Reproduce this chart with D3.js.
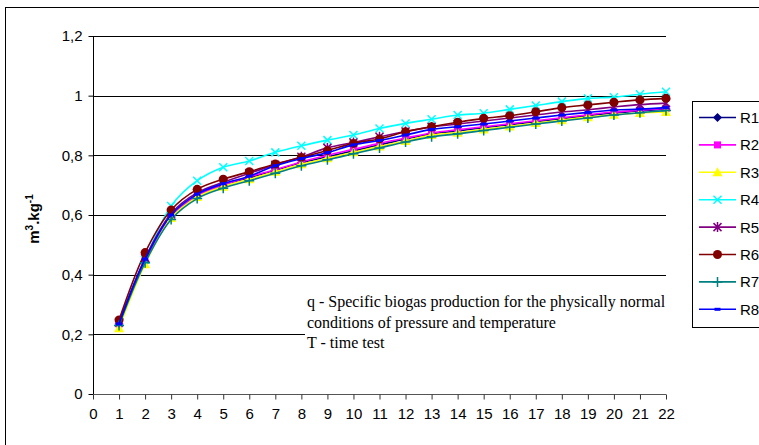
<!DOCTYPE html>
<html>
<head>
<meta charset="utf-8">
<script src="https://cdn.jsdelivr.net/npm/d3@7/dist/d3.min.js"></script>
<style>
  html, body { margin: 0; padding: 0; background: #fff; }
  svg { display: block; font-family: "Liberation Sans", Arial, sans-serif; }
</style>
</head>
<body>
<svg id="chart" width="759" height="445"></svg>
<script>
// Test days (T)
const days = d3.range(1, 23);
const xTicks = d3.range(0, 23);
const yTicks = [0, 0.2, 0.4, 0.6, 0.8, 1.0, 1.2];
const yTickLabels = ["0", "0,2", "0,4", "0,6", "0,8", "1", "1,2"];

// Specific biogas production q, m3/kg, per reactor
const seriesNames = ["R1", "R2", "R3", "R4", "R5", "R6", "R7", "R8"];
const R1 = [0.235, 0.445, 0.590, 0.665, 0.700, 0.725, 0.750, 0.775, 0.795, 0.815, 0.835, 0.855, 0.872, 0.882, 0.893, 0.903, 0.913, 0.923, 0.933, 0.942, 0.949, 0.955];
const R2 = [0.235, 0.450, 0.595, 0.665, 0.700, 0.728, 0.752, 0.778, 0.800, 0.820, 0.840, 0.858, 0.875, 0.886, 0.896, 0.906, 0.916, 0.926, 0.936, 0.945, 0.951, 0.957];
const R3 = [0.220, 0.435, 0.590, 0.660, 0.695, 0.720, 0.745, 0.770, 0.790, 0.810, 0.830, 0.848, 0.868, 0.876, 0.887, 0.897, 0.908, 0.918, 0.928, 0.936, 0.942, 0.945];
const R4 = [0.240, 0.450, 0.630, 0.715, 0.760, 0.781, 0.810, 0.832, 0.851, 0.868, 0.890, 0.907, 0.921, 0.935, 0.941, 0.954, 0.967, 0.980, 0.991, 0.995, 1.005, 1.013];
const R5 = [0.240, 0.455, 0.605, 0.675, 0.710, 0.740, 0.768, 0.795, 0.825, 0.843, 0.862, 0.880, 0.895, 0.905, 0.915, 0.925, 0.935, 0.945, 0.953, 0.962, 0.970, 0.975];
const R6 = [0.248, 0.474, 0.617, 0.686, 0.720, 0.745, 0.771, 0.793, 0.816, 0.840, 0.855, 0.879, 0.896, 0.911, 0.924, 0.933, 0.946, 0.960, 0.969, 0.978, 0.986, 0.991];
const R7 = [0.230, 0.440, 0.585, 0.655, 0.690, 0.715, 0.740, 0.765, 0.785, 0.805, 0.825, 0.845, 0.862, 0.872, 0.883, 0.894, 0.905, 0.915, 0.925, 0.935, 0.943, 0.950];
const R8 = [0.235, 0.452, 0.600, 0.670, 0.705, 0.730, 0.765, 0.789, 0.809, 0.835, 0.850, 0.868, 0.887, 0.896, 0.905, 0.915, 0.925, 0.935, 0.944, 0.952, 0.955, 0.960];
const seriesValues = [R1, R2, R3, R4, R5, R6, R7, R8];
const seriesColors = ["#000080", "#FF00FF", "#FFFF00", "#00FFFF", "#800080", "#800000", "#008080", "#0000FF"];
const seriesMarkers = ["diamond", "square", "triangle", "x", "asterisk", "circle", "plus", "dash"];

const noteLines = [
  "q - Specific biogas production for the physically normal",
  "conditions of pressure and temperature",
  "T - time test"
];

const svg = d3.select("#chart");
const W = 759, H = 445;
const plot = { left: 93, right: 666, top: 36, bottom: 394 };
const sans = "'Liberation Sans', Arial, sans-serif";
const serif = "'Liberation Serif', 'Times New Roman', serif";

const x = d3.scaleLinear().domain([0, 22]).range([plot.left, plot.right]);
const y = d3.scaleLinear().domain([0, 1.2]).range([plot.bottom, plot.top]);

// outer chart frame
svg.append("rect")
  .attr("x", 5.5).attr("y", 7.5)
  .attr("width", W + 20).attr("height", H + 20)
  .attr("fill", "#fff").attr("stroke", "#000").attr("stroke-width", 1);

// horizontal gridlines
svg.append("g")
  .selectAll("line")
  .data(yTicks.filter(v => v > 0))
  .join("line")
  .attr("x1", plot.left).attr("x2", plot.right)
  .attr("y1", d => Math.round(y(d)) + 0.5).attr("y2", d => Math.round(y(d)) + 0.5)
  .attr("stroke", "#000").attr("stroke-width", 1);

// y axis
const yAxis = d3.axisLeft(y)
  .tickValues(yTicks)
  .tickFormat((d, i) => yTickLabels[i])
  .tickSize(5).tickPadding(6);
const gy = svg.append("g")
  .attr("transform", `translate(${plot.left + 0.5},0)`)
  .call(yAxis);
gy.select(".domain").attr("stroke", "#000").attr("d", `M0,${plot.top}V${plot.bottom}`);
gy.selectAll(".tick line").attr("stroke", "#000");
gy.selectAll(".tick text")
  .style("font-size", "15px").style("font-family", sans).attr("fill", "#000");

// x axis
const xAxis = d3.axisBottom(x)
  .tickValues(xTicks)
  .tickFormat(d3.format("d"))
  .tickSize(5).tickPadding(9);
const gx = svg.append("g")
  .attr("transform", `translate(0,${plot.bottom + 0.5})`)
  .call(xAxis);
gx.select(".domain").attr("stroke", "#555").attr("d", `M${plot.left},0H${plot.right}`);
gx.selectAll(".tick line").attr("stroke", "#333");
gx.selectAll(".tick text")
  .style("font-size", "15px").style("font-family", sans).attr("fill", "#000");

// y axis title
const yTitle = svg.append("text")
  .attr("transform", `translate(39,219) rotate(-90)`)
  .attr("text-anchor", "middle")
  .style("font-family", sans).style("font-size", "15px").style("font-weight", "bold")
  .attr("fill", "#000");
yTitle.append("tspan").text("m");
yTitle.append("tspan").attr("dy", -6).style("font-size", "10px").text("3");
yTitle.append("tspan").attr("dy", 6).text(".kg");
yTitle.append("tspan").attr("dy", -6).style("font-size", "10px").text("-1");

// marker drawing
function drawMarker(g, type, color, s) {
  const h = s / 2;
  switch (type) {
    case "diamond":
      g.append("path").attr("d", `M0,${-h - 0.5}L${h + 0.5},0L0,${h + 0.5}L${-h - 0.5},0Z`).attr("fill", color);
      break;
    case "square":
      g.append("rect").attr("x", -h + 0.5).attr("y", -h + 0.5).attr("width", s - 1).attr("height", s - 1).attr("fill", color);
      break;
    case "triangle":
      g.append("path").attr("d", `M0,${-h - 1}L${h + 1},${h}L${-h - 1},${h}Z`).attr("fill", color);
      break;
    case "x":
      g.append("path").attr("d", `M${-h},${-h}L${h},${h}M${-h},${h}L${h},${-h}`).attr("stroke", color).attr("stroke-width", 1.5);
      break;
    case "asterisk":
      g.append("path").attr("d", `M${-h},${-h}L${h},${h}M${-h},${h}L${h},${-h}M0,${-h - 1}V${h + 1}`).attr("stroke", color).attr("stroke-width", 1.5);
      break;
    case "circle":
      g.append("circle").attr("r", h + 0.5).attr("fill", color);
      break;
    case "plus":
      g.append("path").attr("d", `M${-h - 1},0H${h + 1}M0,${-h - 1}V${h + 1}`).attr("stroke", color).attr("stroke-width", 1.5);
      break;
    case "dash":
      g.append("rect").attr("x", -3).attr("y", -1.5).attr("width", 6).attr("height", 3).attr("fill", color);
      break;
  }
}

// series lines and markers
const line = d3.line()
  .x((d, i) => x(days[i]))
  .y(d => y(d))
  .curve(d3.curveCatmullRom.alpha(0.5));

const seriesG = svg.append("g");
seriesValues.forEach((vals, si) => {
  const g = seriesG.append("g");
  g.append("path")
    .datum(vals)
    .attr("d", line)
    .attr("fill", "none")
    .attr("stroke", seriesColors[si])
    .attr("stroke-width", 1.6);
  g.selectAll("g.m")
    .data(vals)
    .join("g")
    .attr("class", "m")
    .attr("transform", (d, i) => `translate(${x(days[i])},${y(d)})`)
    .each(function () { drawMarker(d3.select(this), seriesMarkers[si], seriesColors[si], 8); });
});

// note box (white, covers the gridline behind it)
const noteG = svg.append("g");
noteG.append("rect")
  .attr("x", 305).attr("y", 290).attr("width", 361).attr("height", 64)
  .attr("fill", "#fff");
noteG.selectAll("text")
  .data(noteLines)
  .join("text")
  .attr("x", 307)
  .attr("y", (d, i) => 307 + i * 20.5)
  .style("font-family", serif)
  .style("font-size", "16px")
  .attr("fill", "#000")
  .text(d => d);

// legend
const legend = svg.append("g");
legend.append("rect")
  .attr("x", 692.5).attr("y", 101.5)
  .attr("width", 100).attr("height", 226)
  .attr("fill", "#fff").attr("stroke", "#000").attr("stroke-width", 1);
seriesNames.forEach((name, i) => {
  const cy = 117.5 + i * 27.4;
  const g = legend.append("g");
  g.append("line")
    .attr("x1", 699).attr("x2", 736).attr("y1", cy).attr("y2", cy)
    .attr("stroke", seriesColors[i]).attr("stroke-width", 1.6);
  const mg = g.append("g").attr("transform", `translate(717.5,${cy})`);
  drawMarker(mg, seriesMarkers[i], seriesColors[i], 8);
  g.append("text")
    .attr("x", 740).attr("y", cy + 5.5)
    .style("font-family", sans).style("font-size", "15px")
    .attr("fill", "#000")
    .text(name);
});
</script>
</body>
</html>
